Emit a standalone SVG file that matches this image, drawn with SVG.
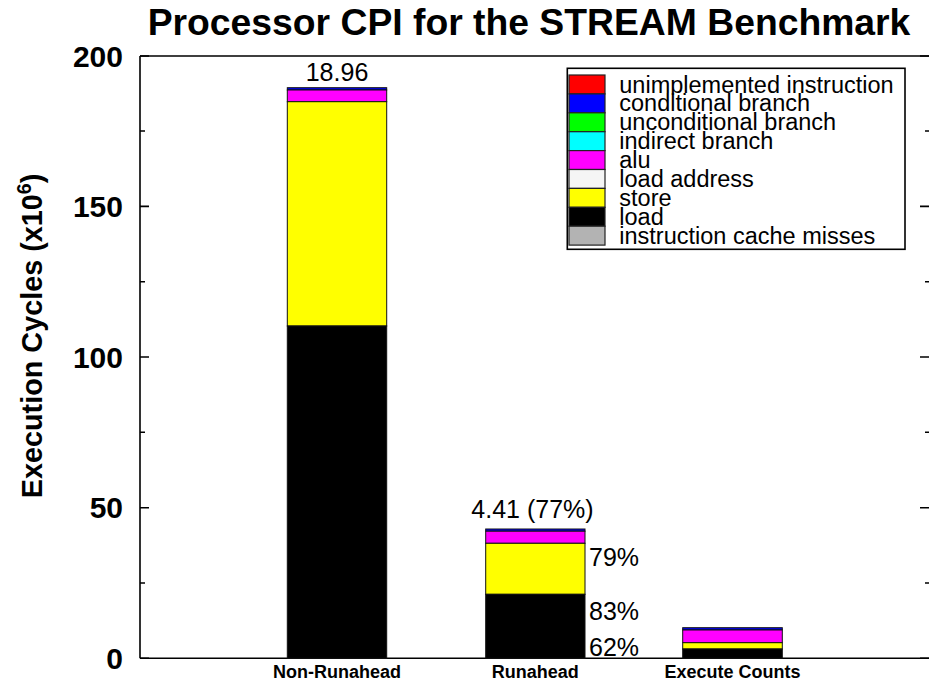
<svg xmlns="http://www.w3.org/2000/svg" width="929" height="685" viewBox="0 0 929 685">
<style>
text{font-family:"Liberation Sans",Arial,sans-serif;fill:#000}
.title{font-size:37.3px;font-weight:bold;text-anchor:middle}
.tick{font-size:30px;font-weight:bold;text-anchor:end}
.ylab{font-size:28.8px;font-weight:bold;text-anchor:middle}
.cat{font-size:18px;font-weight:bold;text-anchor:middle}
.val{font-size:25px}
.leg{font-size:23.5px}
.axis{stroke:#000;stroke-width:1.6;fill:none}
.seg{stroke:#111;stroke-width:1}
.sw{stroke:#222;stroke-width:1.2}
</style>
<rect width="929" height="685" fill="#fff"/>
<text class="title" x="529" y="35">Processor CPI for the STREAM Benchmark</text>

<g id="axes">
<path class="axis" d="M140,56 V658.3 M140,56 H929 M140,658.3 H929"/>
<path class="axis" d="M140,658.3 h9 M140,583 h5 M140,507.7 h9 M140,432.3 h5 M140,357 h9 M140,281.7 h5 M140,206.4 h9 M140,131 h5 M140,56 h9"/>
<path class="axis" d="M929,658.3 h-9 M929,583 h-4 M929,507.7 h-9 M929,432.3 h-4 M929,357 h-9 M929,281.7 h-4 M929,206.4 h-9 M929,131 h-4 M929,56 h-9"/>
<text class="tick" x="123" y="669">0</text>
<text class="tick" x="123" y="518.2">50</text>
<text class="tick" x="123" y="367.5">100</text>
<text class="tick" x="123" y="216.9">150</text>
<text class="tick" x="123" y="66.5">200</text>
<text class="ylab" transform="translate(42,336) rotate(-90)">Execution Cycles (x10<tspan font-size="19.5" dy="-11">6</tspan><tspan dy="11">)</tspan></text>
</g>

<g id="bar-nonrunahead">
<rect class="seg" x="287.3" y="87.7" width="99.4" height="2.3" fill="#0000ff"/>
<rect class="seg" x="287.3" y="90" width="99.4" height="11.7" fill="#ff00ff"/>
<rect class="seg" x="287.3" y="101.7" width="99.4" height="224.3" fill="#ffff00"/>
<rect class="seg" x="287.3" y="326" width="99.4" height="332.3" fill="#000"/>
<text class="val" x="337" y="80.7" text-anchor="middle">18.96</text>
<text class="cat" x="337" y="678">Non-Runahead</text>
</g>

<g id="bar-runahead">
<rect class="seg" x="485.7" y="529" width="99.3" height="2.2" fill="#0000ff"/>
<rect class="seg" x="485.7" y="531.2" width="99.3" height="12.1" fill="#ff00ff"/>
<rect class="seg" x="485.7" y="543.3" width="99.3" height="51" fill="#ffff00"/>
<rect class="seg" x="485.7" y="594.3" width="99.3" height="64" fill="#000"/>
<text class="val" x="532.5" y="518.3" text-anchor="middle">4.41 (77%)</text>
<text class="val" x="589" y="566">79%</text>
<text class="val" x="589" y="620">83%</text>
<text class="val" x="589" y="655.7">62%</text>
<text class="cat" x="535.3" y="678">Runahead</text>
</g>

<g id="bar-execute">
<rect class="seg" x="682.7" y="627.7" width="99.6" height="2.3" fill="#0000ff"/>
<rect class="seg" x="682.7" y="630" width="99.6" height="12.7" fill="#ff00ff"/>
<rect class="seg" x="682.7" y="642.7" width="99.6" height="6.3" fill="#ffff00"/>
<rect class="seg" x="682.7" y="649" width="99.6" height="9.3" fill="#000"/>
<text class="cat" x="732.5" y="678">Execute Counts</text>
</g>

<g id="legend">
<rect x="567.3" y="68.3" width="337.7" height="181" fill="#fff" stroke="#000" stroke-width="1.6"/>
<rect class="sw" x="569" y="75" width="36" height="18.9" fill="#ff0000"/>
<rect class="sw" x="569" y="93.9" width="36" height="18.9" fill="#0000ff"/>
<rect class="sw" x="569" y="112.8" width="36" height="18.9" fill="#00ff00"/>
<rect class="sw" x="569" y="131.7" width="36" height="18.9" fill="#00ffff"/>
<rect class="sw" x="569" y="150.6" width="36" height="18.9" fill="#ff00ff"/>
<rect class="sw" x="569" y="169.5" width="36" height="18.9" fill="#f5f5f5"/>
<rect class="sw" x="569" y="188.4" width="36" height="18.9" fill="#ffff00"/>
<rect class="sw" x="569" y="207.3" width="36" height="18.9" fill="#000000"/>
<rect class="sw" x="569" y="226.2" width="36" height="18.9" fill="#b3b3b3"/>
<text class="leg" x="619.3" y="92.5">unimplemented instruction</text>
<text class="leg" x="619.3" y="111.4">conditional branch</text>
<text class="leg" x="619.3" y="130.3">unconditional branch</text>
<text class="leg" x="619.3" y="149.2">indirect branch</text>
<text class="leg" x="619.3" y="168.1">alu</text>
<text class="leg" x="619.3" y="187">load address</text>
<text class="leg" x="619.3" y="205.9">store</text>
<text class="leg" x="619.3" y="224.8">load</text>
<text class="leg" x="619.3" y="243.7">instruction cache misses</text>
</g>
</svg>
